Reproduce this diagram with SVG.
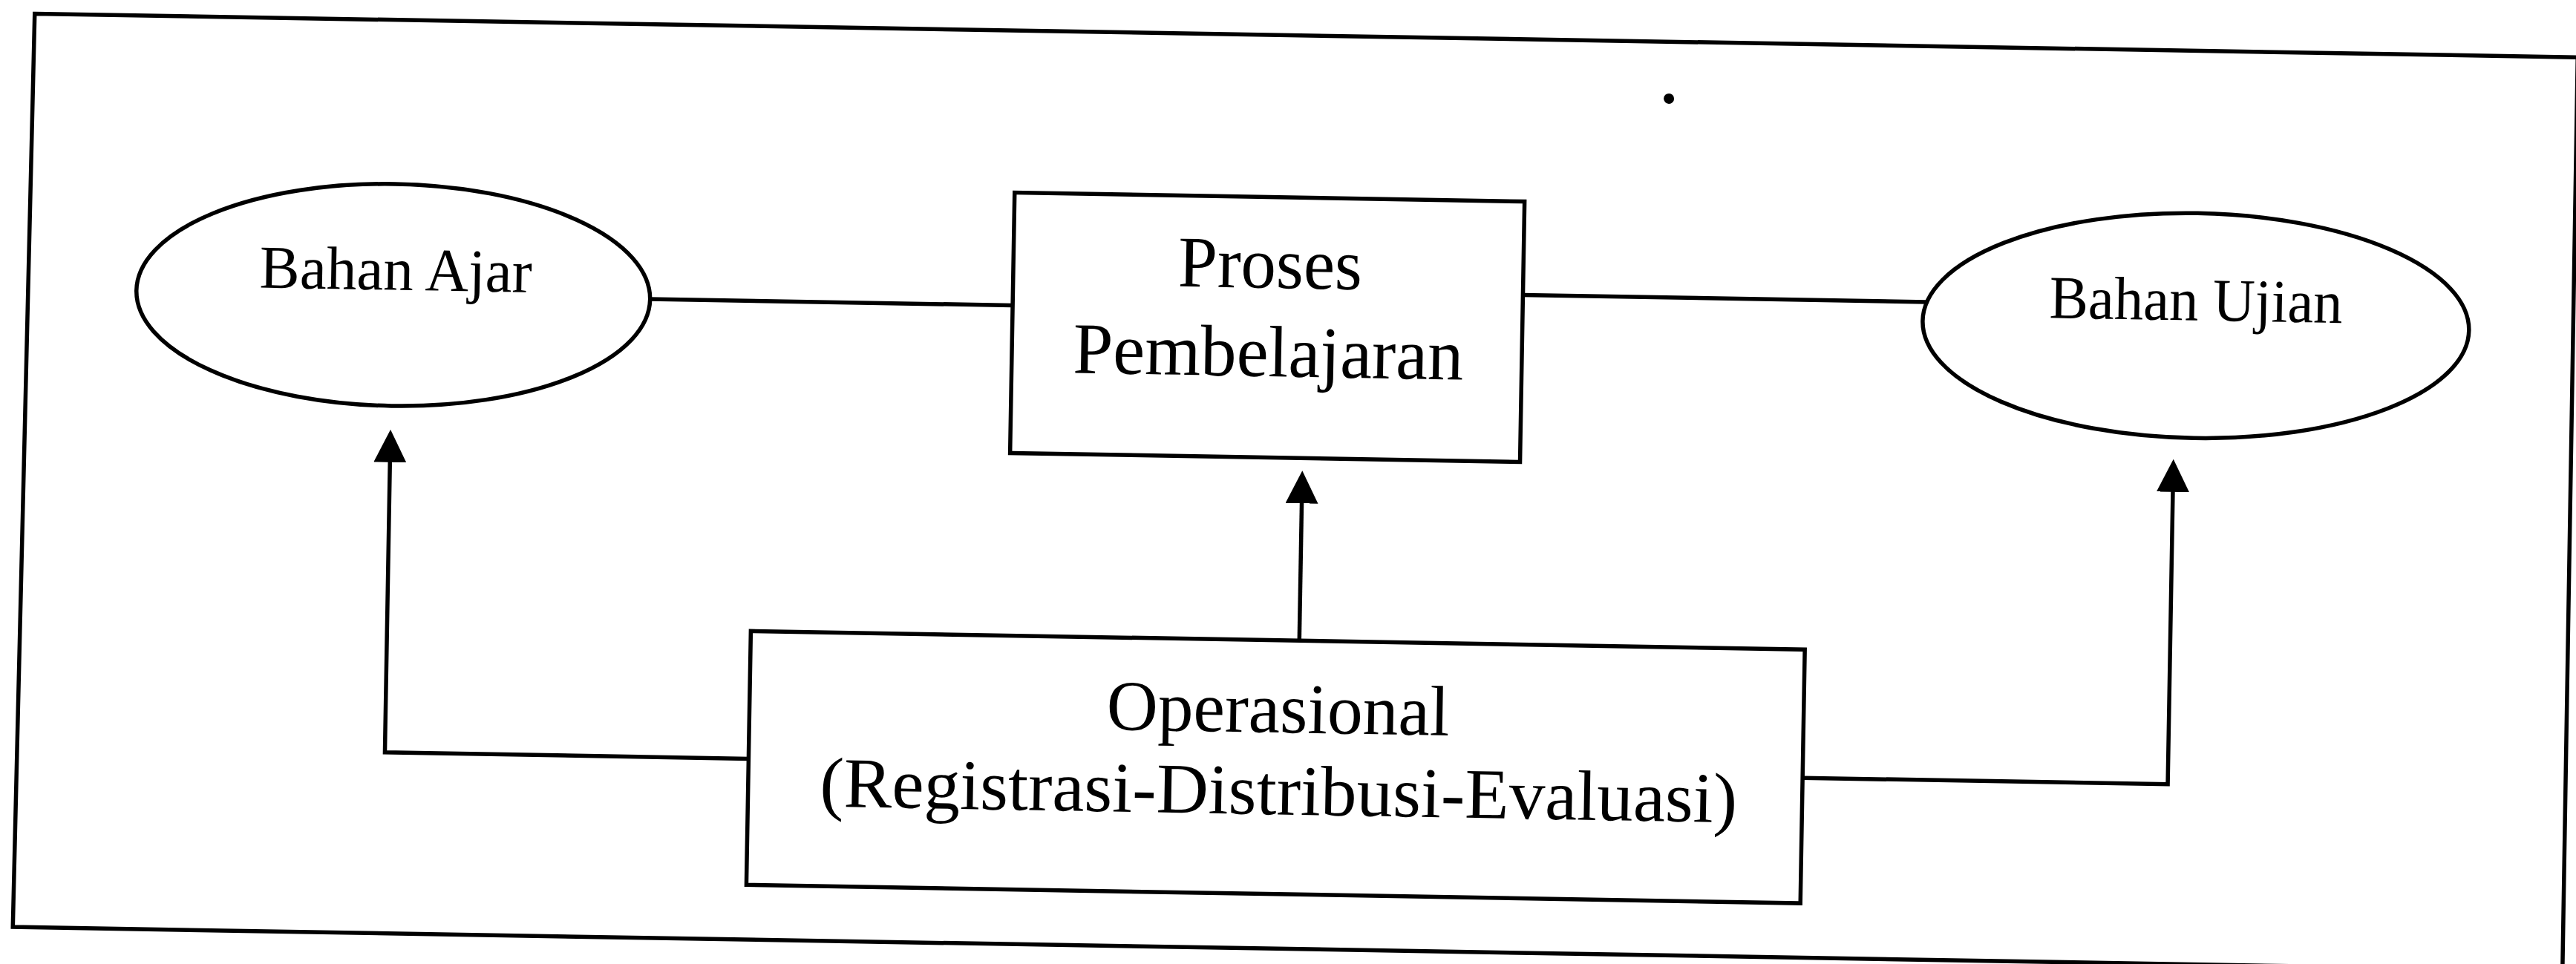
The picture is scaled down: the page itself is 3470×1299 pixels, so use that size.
<svg xmlns="http://www.w3.org/2000/svg" width="3470" height="1299" viewBox="0 0 3470 1299">
  <style>
    .shape { fill: #ffffff; stroke: #000000; stroke-width: 5.5; }
    .frame { fill: none; stroke: #000000; stroke-width: 5.5; }
    .conn { fill: none; stroke: #000000; stroke-width: 5.5; stroke-linejoin: miter; }
    .lbl { font-family: "Liberation Serif", "Times New Roman", serif; fill: #000000; text-anchor: middle; }
    .small { font-size: 82px; }
    .mid { font-size: 98px; }
    .big { font-size: 96px; }
  </style>
  <defs>
    <marker id="ah" markerUnits="userSpaceOnUse" viewBox="0 0 44 44" markerWidth="44" markerHeight="44" refX="2" refY="22" orient="auto">
      <path d="M0,0 L44,22 L0,44 z" fill="#000000"/>
    </marker>
  </defs>
  <rect x="0" y="0" width="3470" height="1299" fill="#ffffff"/>
  <g id="diagram" transform="rotate(1 1735 650)">
    <path id="frame" class="frame" d="M36,48 L3462,47 L3463,1278 L28,1279 Z"/>
    <circle id="speck" cx="2239" cy="124" r="7" fill="#000000"/>

    <g id="connectors">
      <line class="conn" x1="871" y1="418" x2="1360" y2="418"/>
      <line class="conn" x1="2047" y1="392" x2="2591" y2="392"/>
      <path class="conn" d="M1015,1035 L525,1035 L525,642" marker-end="url(#ah)"/>
      <path class="conn" d="M1754,863 L1754,676" marker-end="url(#ah)"/>
      <path class="conn" d="M2435,1036 L2927,1036 L2927,640" marker-end="url(#ah)"/>
    </g>

    <g id="node-bahan-ajar">
      <ellipse class="shape" cx="525.5" cy="418.5" rx="346" ry="149.5"/>
      <text class="lbl small" x="528.5" y="411.7" textLength="367" lengthAdjust="spacingAndGlyphs">Bahan Ajar</text>
    </g>

    <g id="node-proses">
      <rect class="shape" x="1360" y="266" width="687" height="351"/>
      <text class="lbl mid" x="1706" y="388.4" textLength="248" lengthAdjust="spacingAndGlyphs">Proses</text>
      <text class="lbl mid" x="1705.5" y="507.5" textLength="526" lengthAdjust="spacingAndGlyphs">Pembelajaran</text>
    </g>

    <g id="node-bahan-ujian">
      <ellipse class="shape" cx="2954" cy="417.5" rx="368" ry="151.5"/>
      <text class="lbl small" x="2953.7" y="410.4" textLength="395" lengthAdjust="spacingAndGlyphs">Bahan Ujian</text>
    </g>

    <g id="node-operasional">
      <rect class="shape" x="1015" y="863" width="1420" height="342"/>
      <text class="lbl big" x="1727" y="987.2" textLength="462" lengthAdjust="spacingAndGlyphs">Operasional</text>
      <text class="lbl big" x="1729.6" y="1097.6" textLength="1236" lengthAdjust="spacingAndGlyphs">(Registrasi-Distribusi-Evaluasi)</text>
    </g>
  </g>
</svg>
